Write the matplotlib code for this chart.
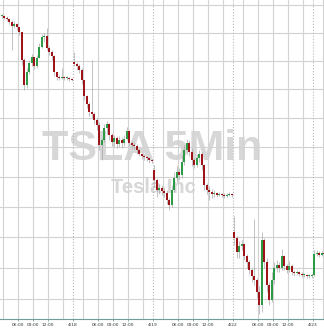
import numpy as np
import matplotlib
matplotlib.use('Agg')
from matplotlib import pyplot as plt

# TSLA 5Min chart, 4/17 - 4/23.
# x axis: hours since 01:00 PT, each trading day is a 16 hour session (01:00-17:00)
SESSION_HOURS = 16
X_MIN, X_MAX = 1.4, 66.2

days = ['4/17', '4/18', '4/19', '4/22', '4/23']
first_slot = [2, 0, 0, 0, 0]   # first half-hour slot visible for each day
session_opens = [159.21, 155.91, 148.45, 144.33, 141.54]

closes_417 = [159.21, 159.21, 159.06, 158.99, 158.77, 158.48, 158.63, 158.41, 158.05, 156.05,
              154.29, 155.21, 155.84, 156.27, 155.63, 156.19, 156.98, 157.69, 157.76, 156.91,
              156.62, 156.34, 155.21, 154.86, 154.79, 154.86, 154.79, 154.79, 154.72, 154.65]
highs_417 = [159.35, 159.35, 159.28, 159.21, 159.06, 158.92, 158.84, 158.70, 158.41, 157.98,
             156.19, 155.49, 156.05, 156.48, 156.19, 156.41, 157.26, 157.91, 157.98, 158.34,
             157.05, 156.76, 156.41, 155.21, 155.00, 155.49, 154.93, 154.93, 154.86, 154.79]
lows_417 = [159.06, 159.06, 158.99, 158.84, 158.63, 156.76, 158.34, 158.19, 157.84, 155.70,
            153.94, 154.08, 155.07, 155.63, 155.42, 155.49, 156.19, 156.91, 157.34, 156.76,
            156.41, 156.05, 154.93, 154.65, 154.65, 154.72, 154.65, 154.65, 154.58, 154.58]

closes_418 = [155.77, 155.63, 155.35, 154.65, 153.53, 152.97, 152.41, 152.27, 151.86, 151.51,
              150.14, 150.49, 151.31, 151.58, 150.83, 150.35, 150.62, 150.21, 150.49, 150.28,
              150.55, 151.10, 150.28, 150.14, 150.08, 149.80, 149.53, 149.40, 149.33, 149.26,
              149.13, 149.06]
highs_418 = [156.62, 155.91, 155.77, 155.49, 154.65, 153.60, 153.11, 156.05, 152.41, 151.99,
             151.72, 150.62, 151.58, 151.79, 151.65, 150.97, 150.83, 150.76, 150.76, 150.69,
             150.83, 151.38, 151.17, 150.42, 150.28, 150.21, 149.87, 149.60, 149.53, 149.40,
             149.33, 149.20]
lows_418 = [155.63, 155.35, 155.14, 154.36, 153.25, 152.69, 152.13, 151.99, 151.58, 151.17,
            149.80, 149.13, 150.35, 150.90, 150.49, 150.08, 150.01, 149.94, 150.01, 149.94,
            150.08, 150.49, 150.08, 149.94, 149.87, 149.53, 149.40, 149.20, 149.13, 149.06,
            148.93, 148.93]

closes_419 = [147.78, 147.11, 147.24, 147.04, 146.91, 146.44, 146.11, 147.11, 147.91, 148.32,
              148.11, 148.99, 149.80, 150.28, 149.67, 149.13, 148.79, 149.26, 149.53, 148.79,
              147.44, 147.11, 146.98, 146.84, 146.91, 146.78, 146.84, 146.78, 146.71, 146.78,
              146.84, 146.78]
highs_419 = [148.79, 147.91, 147.51, 147.44, 147.31, 147.11, 146.58, 147.44, 148.32, 148.72,
             148.59, 149.47, 150.14, 150.55, 150.49, 149.94, 149.26, 149.53, 149.80, 149.67,
             148.85, 147.58, 147.38, 147.18, 147.11, 146.98, 146.98, 146.91, 146.91, 146.91,
             146.98, 146.91]
lows_419 = [147.31, 146.64, 146.84, 146.78, 146.64, 146.17, 145.78, 145.97, 146.98, 147.65,
            147.78, 147.91, 148.79, 149.53, 149.40, 148.72, 148.59, 148.65, 148.99, 148.45,
            147.11, 146.84, 146.44, 146.58, 146.64, 146.64, 146.71, 146.64, 146.58, 146.64,
            146.71, 146.64]

closes_422 = [143.94, 143.03, 143.42, 143.55, 142.77, 142.38, 141.86, 141.47, 141.22, 140.45,
              139.62, 143.81, 142.38, 140.90, 139.94, 141.22, 141.99, 142.18, 141.99, 142.77,
              142.12, 141.86, 142.12, 141.73, 141.67, 141.73, 141.60, 141.54, 141.54, 141.47,
              141.47, 141.54]
highs_422 = [145.38, 144.07, 143.74, 143.81, 143.61, 142.90, 142.51, 141.99, 145.18, 141.35,
             140.83, 144.33, 143.94, 142.64, 141.09, 141.73, 142.38, 142.51, 142.38, 143.22,
             142.83, 142.25, 142.45, 142.25, 141.86, 141.86, 141.79, 141.73, 141.67, 141.60,
             141.60, 141.67]
lows_422 = [143.48, 142.64, 142.64, 143.16, 142.51, 141.99, 141.60, 141.09, 140.90, 140.06,
            139.05, 139.18, 141.99, 140.45, 139.62, 139.81, 140.96, 141.73, 141.73, 141.86,
            141.86, 141.67, 141.73, 141.54, 141.47, 141.54, 141.47, 141.41, 141.41, 141.35,
            141.35, 141.35]

closes_423 = [142.90, 142.96, 142.83, 142.96, 142.90]
highs_423 = [143.16, 143.16, 143.09, 143.09, 143.03]
lows_423 = [141.47, 142.77, 142.70, 142.77, 142.77]

closes = [closes_417, closes_418, closes_419, closes_422, closes_423]
highs = [highs_417, highs_418, highs_419, highs_422, highs_423]
lows = [lows_417, lows_418, lows_419, lows_422, lows_423]

price_grid = np.arange(140, 161, 2)
time_ticks = [(5, '06:00'), (8, '09:00'), (11, '12:00')]
plain_grid = [2, 14]   # 03:00 and 15:00 lines have no label

RED = '#9e1418'
GREEN = '#2e9a45'
WICK = '#a0a0a0'
GRID = '#d2d2d2'

fig = plt.figure(figsize=(3.24, 3.28), dpi=100)
ax = fig.add_axes([0, 0.026, 1, 0.974])

# watermark
ax.text(0.469, 0.499, 'TSLA 5Min', transform=ax.transAxes, ha='center', va='baseline',
        fontsize=31, fontweight='bold', family='Liberation Sans', color='#d7d7d7', zorder=0)
ax.text(0.472, 0.396, 'Tesla Inc', transform=ax.transAxes, ha='center', va='baseline',
        fontsize=14.5, fontweight='bold', family='Liberation Sans', color='#d7d7d7', zorder=0)

# candles
for k in range(len(days)):
    c = np.array(closes[k])
    hi = np.array(highs[k])
    lo = np.array(lows[k])
    o = np.concatenate([[session_opens[k]], c[:-1]])
    x = k * SESSION_HOURS + (first_slot[k] + np.arange(len(c))) * 0.5 + 0.25
    colors = np.where(c >= o, GREEN, RED)
    ax.vlines(x, lo, hi, color=WICK, lw=0.45, zorder=2)
    ax.bar(x, np.maximum(np.abs(c - o), 0.04), bottom=np.minimum(o, c), width=0.36,
           color=colors, lw=0, zorder=3)

# grid
ax.set_yscale('log')
for p in price_grid:
    ax.axhline(p, color=GRID, lw=0.8, zorder=1)

tick_pos, tick_lab = [], []
for k, day in enumerate(days):
    base = k * SESSION_HOURS
    ax.axvline(base, color='#b5b5b5', lw=0.8, ls=':', zorder=1)
    tick_pos.append(base)
    tick_lab.append(day)
    for off, lab in time_ticks:
        ax.axvline(base + off, color=GRID, lw=0.8, zorder=1)
        tick_pos.append(base + off)
        tick_lab.append(lab)
    for off in plain_grid:
        ax.axvline(base + off, color=GRID, lw=0.8, zorder=1)

# keep only the labels that sit inside the visible window
keep = [i for i, p in enumerate(tick_pos) if X_MIN + 0.8 < p < X_MAX - 0.8]
ax.set_xticks([tick_pos[i] for i in keep])
ax.set_xticklabels([tick_lab[i] for i in keep])
ax.set_xlim(X_MIN, X_MAX)
ax.set_ylim(138.70, 160.36)
ax.set_yticks([])
ax.minorticks_off()
ax.tick_params(axis='x', labelsize=3.2, length=1.5, width=0.5, pad=0.8,
               colors='#5f8f8f', labelcolor='#333333')

for side in ['top', 'left', 'right']:
    ax.spines[side].set_visible(False)
ax.spines['bottom'].set_color('#6f9d9d')
ax.spines['bottom'].set_linewidth(0.8)

fig.savefig('out.png', dpi=100)
